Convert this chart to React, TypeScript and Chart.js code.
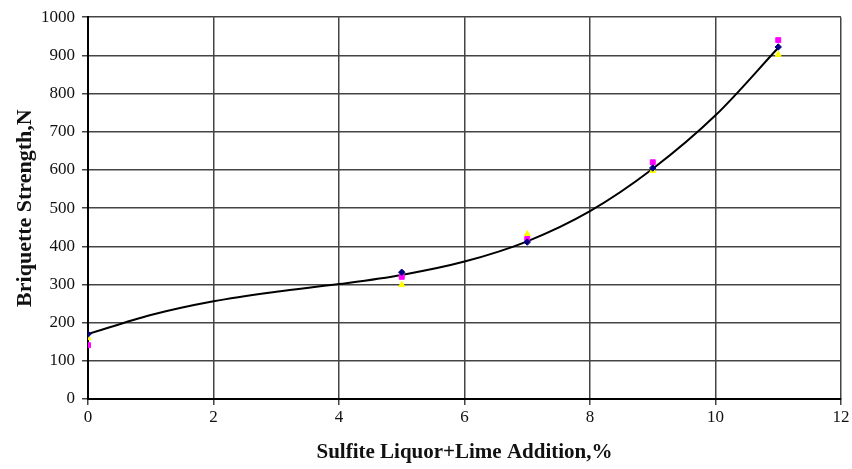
import React, { useEffect, useRef } from "react";
import { Chart, registerables } from "chart.js";

Chart.register(...registerables);

const xValues = [0, 5, 7, 9, 11];
const seriesNavy = [170, 332, 411, 605, 922];
const seriesMagenta = [141, 320, 419, 620, 940];
const seriesYellow = [160, 299, 432, 598, 902];

const curveX = [0, 1, 2, 3, 4, 5, 6, 7, 8, 9, 10, 11];
const curveY = [170, 220, 256, 281, 301, 325, 360, 413, 492, 603, 743, 920];

const yTicks = [0, 100, 200, 300, 400, 500, 600, 700, 800, 900, 1000];
const xTicks = [0, 2, 4, 6, 8, 10, 12];

const FONT = "'Liberation Serif', 'Times New Roman', serif";

export default function App() {
  const ref = useRef<HTMLCanvasElement>(null);

  useEffect(() => {
    document.body.style.margin = "0";
    const ctx = ref.current!.getContext("2d")!;
    const pts = (ys: number[]) => xValues.map((x, i) => ({ x, y: ys[i] }));
    const chart = new Chart(ctx, {
      type: "scatter",
      data: {
        datasets: [
          {
            label: "Fit",
            type: "line",
            data: curveX.map((x, i) => ({ x, y: curveY[i] })),
            borderColor: "#000",
            borderWidth: 2,
            pointRadius: 0,
            cubicInterpolationMode: "monotone",
            fill: false,
            order: 10,
          } as any,
          {
            label: "A",
            data: pts(seriesYellow),
            pointStyle: "triangle",
            pointRadius: 3.5,
            backgroundColor: "#ffff00",
            borderColor: "#ffff00",
            order: 3,
          },
          {
            label: "B",
            data: pts(seriesMagenta),
            pointStyle: "rect",
            pointRadius: 3.5,
            backgroundColor: "#ff00ff",
            borderColor: "#ff00ff",
            order: 2,
          },
          {
            label: "C",
            data: pts(seriesNavy),
            pointStyle: "rectRot",
            pointRadius: 3.2,
            backgroundColor: "#000080",
            borderColor: "#000080",
            order: 1,
          },
        ],
      },
      options: {
        animation: false,
        responsive: false,
        maintainAspectRatio: false,
        layout: { padding: { top: 17, right: 11, left: 0, bottom: 0 } },
        plugins: { legend: { display: false }, tooltip: { enabled: false } },
        scales: {
          x: {
            type: "linear",
            min: 0,
            max: 12,
            afterBuildTicks: (axis: any) => {
              axis.ticks = xTicks.map((v) => ({ value: v }));
            },
            afterFit: (axis: any) => {
              axis.height = 70;
            },
            grid: { color: "#444", lineWidth: 1.5, tickLength: 6, drawTicks: true },
            border: { color: "#000", width: 2 },
            ticks: {
              color: "#111",
              padding: 2,
              font: { family: FONT, size: 17 },
              callback: (v: any) => String(v),
            },
            title: {
              display: true,
              text: "Sulfite Liquor+Lime Addition,%",
              color: "#111",
              font: { family: FONT, size: 21, weight: "bold" },
              padding: { top: 4, bottom: 4 },
            },
          },
          y: {
            type: "linear",
            min: 0,
            max: 1000,
            afterBuildTicks: (axis: any) => {
              axis.ticks = yTicks.map((v) => ({ value: v }));
            },
            afterFit: (axis: any) => {
              axis.width = 88;
            },
            grid: { color: "#444", lineWidth: 1.5, tickLength: 6 },
            border: { color: "#000", width: 2 },
            ticks: {
              color: "#111",
              padding: 7,
              font: { family: FONT, size: 17 },
              callback: (v: any) => String(v),
            },
            title: {
              display: true,
              text: "Briquette Strength,N",
              color: "#111",
              font: { family: FONT, size: 22, weight: "bold" },
              padding: { top: 12, bottom: 0 },
            },
          },
        },
      },
    });
    return () => chart.destroy();
  }, []);

  return (
    <div style={{ width: 852, height: 469, background: "#fff" }}>
      <canvas ref={ref} width={852} height={469} style={{ width: 852, height: 469 }} />
    </div>
  );
}
